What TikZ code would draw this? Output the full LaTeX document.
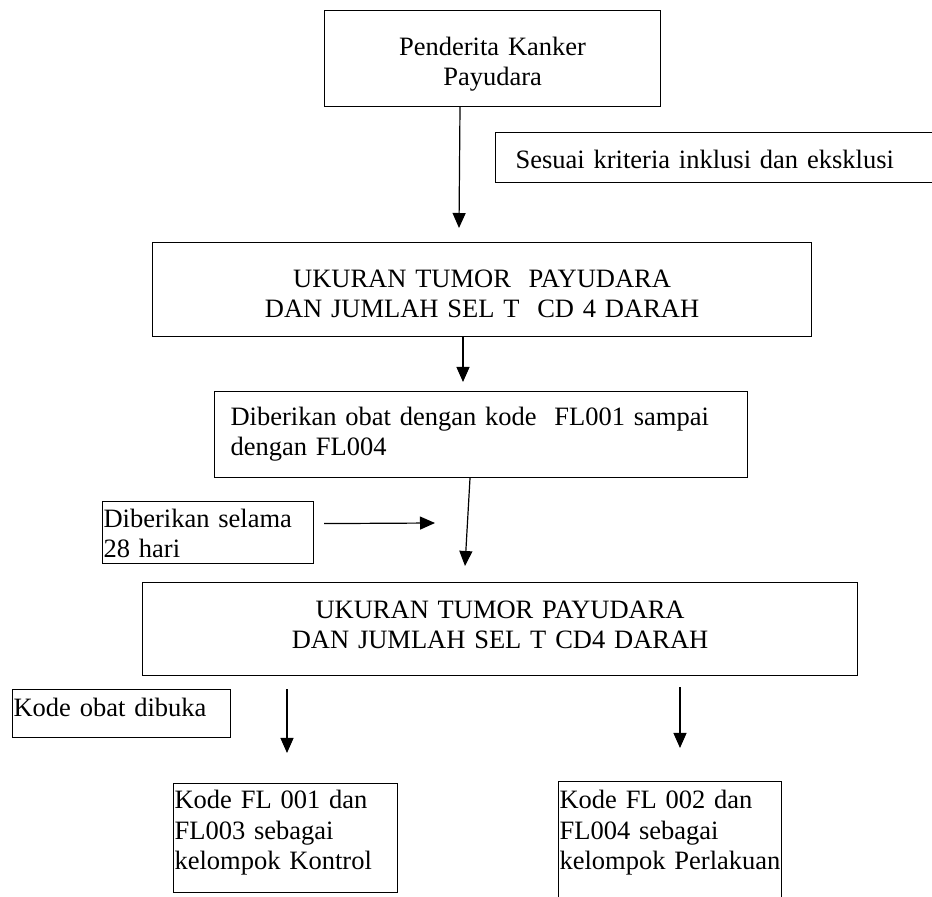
\documentclass[tikz,border=0pt]{standalone}
\usepackage{fontspec}
\setmainfont{Liberation Serif}
\usetikzlibrary{arrows.meta,calc}

\tikzset{
  frame/.style={draw, line width=0.6pt, inner ysep=0pt, anchor=north west,
    font=\fontsize{13.25pt}{15.2pt}\selectfont},
  arr/.style={line width=0.6pt, -{Triangle[length=7.5pt,width=6.5pt]}},
}

\begin{document}
\begin{tikzpicture}[x=0.5pt,y=-0.5pt]
\useasboundingbox (0,0) rectangle (932,897);

% main flow boxes
\node[frame, align=center, inner xsep=0pt, text width=168pt,
      text height=22.5pt, text depth=25.5pt] (b1) at (324,10)
  {Penderita Kanker\\Payudara};

\node[frame, align=left, inner xsep=10pt, text width=207.5pt,
      text height=18pt, text depth=7pt] (crit) at (495,132)
  {Sesuai kriteria inklusi dan eksklusi};

\node[frame, align=center, inner xsep=0pt, text width=329.5pt,
      text height=22.5pt, text depth=24.5pt] (b2) at (152,242)
  {UKURAN TUMOR\ \ PAYUDARA\\DAN JUMLAH SEL T\ \ CD 4 DARAH};

\node[frame, align=left, inner xsep=8pt, text width=250.5pt,
      text height=17pt, text depth=26pt] (b3) at (214,391)
  {Diberikan obat dengan kode\ \ FL001 sampai\\dengan FL004};

\node[frame, align=left, inner xsep=0.5pt, text width=104.5pt,
      text height=13pt, text depth=18pt] (dur) at (102,501)
  {Diberikan selama\\28 hari};

\node[frame, align=center, inner xsep=0pt, text width=357.5pt,
      text height=18pt, text depth=28.5pt] (b4) at (142,582)
  {UKURAN TUMOR PAYUDARA\\DAN JUMLAH SEL T CD4 DARAH};

\node[frame, align=left, inner xsep=0.5pt, text width=108pt,
      text height=13.5pt, text depth=10.5pt] (open) at (12,689)
  {Kode obat dibuka};

% group boxes
\node[frame, align=left, inner xsep=0.5pt, text width=111pt,
      text height=12.5pt, text depth=42pt] (ctrl) at (173,783)
  {\mbox{Kode FL 001 dan}\\\mbox{FL003 sebagai}\\\mbox{kelompok Kontrol}};

\node[frame, align=left, inner xsep=0.5pt, text width=110.5pt,
      text height=13.5pt, text depth=71pt] (treat) at (558,781)
  {\mbox{Kode FL 002 dan}\\\mbox{FL004 sebagai}\\\mbox{kelompok Perlakuan}};

% arrow tips
\coordinate (t1) at (459,228);
\coordinate (t2) at (463,382);
\coordinate (t3) at (465,566);
\coordinate (t4) at (435,523);
\coordinate (t5) at (287,753);
\coordinate (t6) at (680,748);

% connectors
\draw[arr] ($(b1.south west)+(136,0)$) -- (t1);
\draw[arr] ($(b2.south west)+(311,0)$) -- (t2);
\draw[arr] ($(b3.south west)+(256,0)$) -- (t3);
\draw[arr] ($(dur.east)+(10,-9)$) -- (t4);
\draw[arr] ($(b4.south west)+(145,13)$) -- (t5);
\draw[arr] ($(b4.south west)+(538,11)$) -- (t6);
\end{tikzpicture}
\end{document}
